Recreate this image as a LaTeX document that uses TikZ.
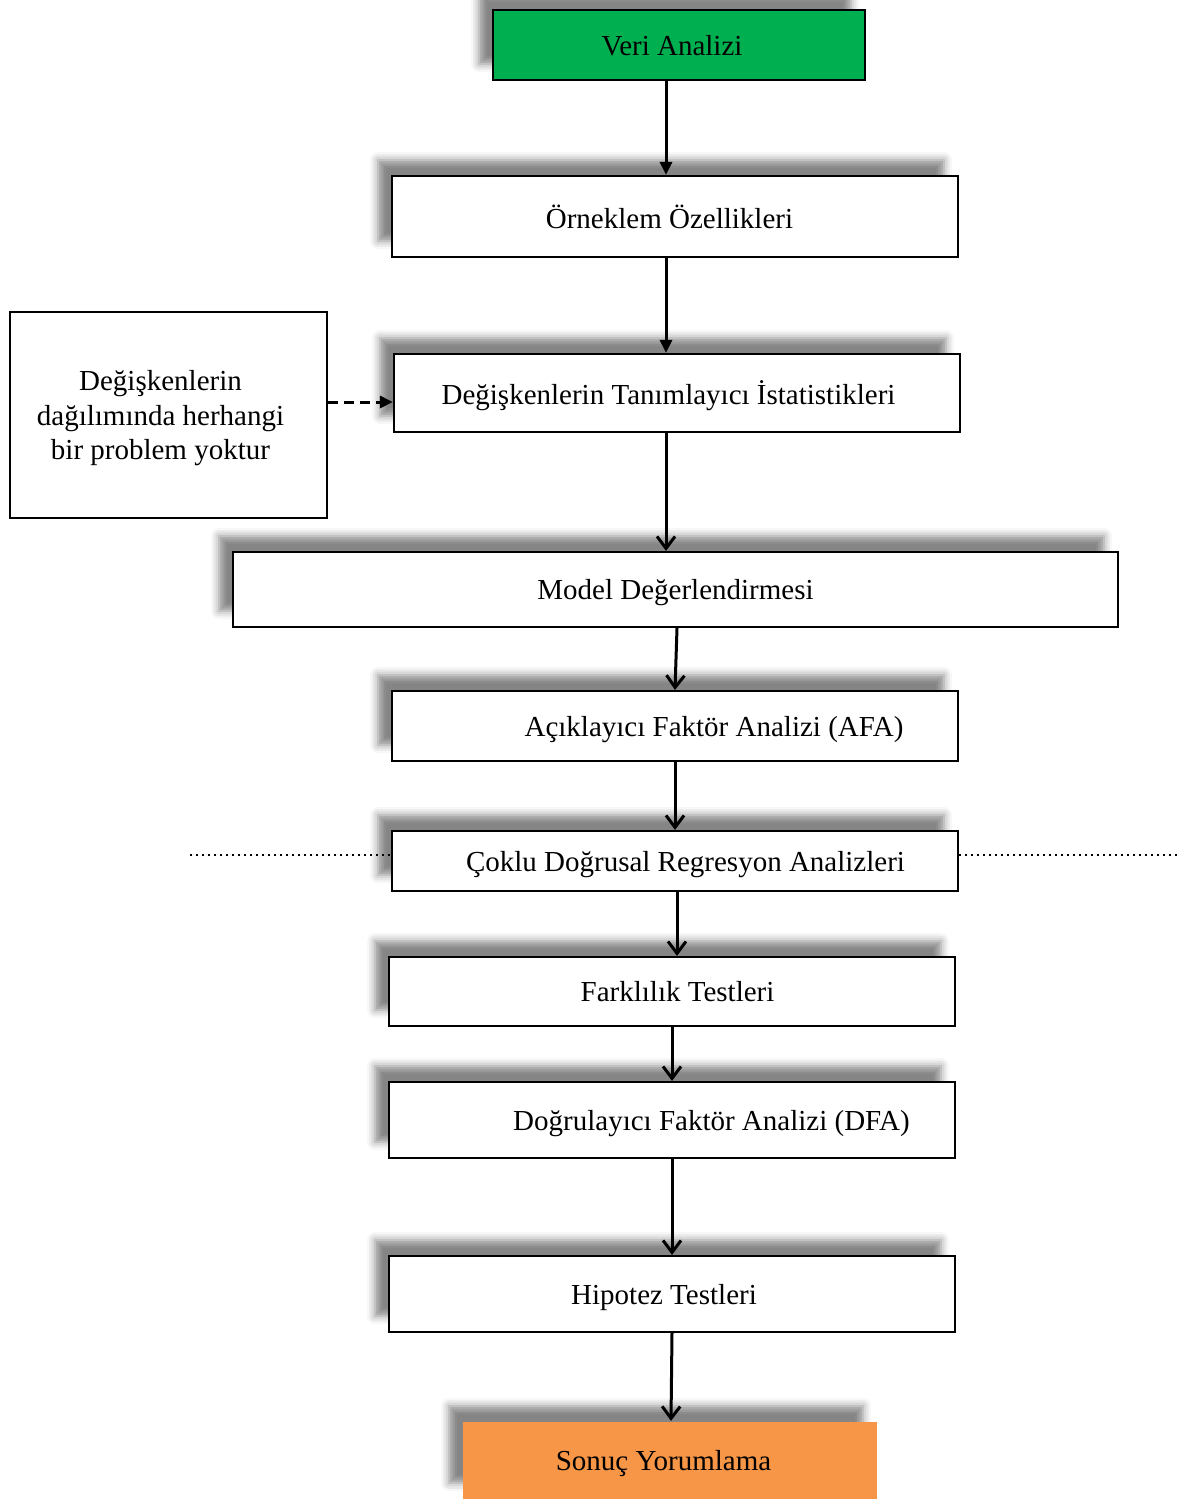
\documentclass[tikz,border=0pt]{standalone}
\usepackage{fontspec}
\setmainfont{Liberation Serif}
\usetikzlibrary{arrows.meta,shadows.blur}

\tikzset{
  stagebox/.style={draw, line width=1.1pt, fill=white, inner sep=0pt, text depth=0pt,
    font=\fontsize{14.5}{17.5}\selectfont,
    blur shadow={shadow xshift=-7pt, shadow yshift=8pt, shadow blur radius=4pt, shadow opacity=48}},
  notebox/.style={draw, line width=1.1pt, fill=white, inner sep=0pt, align=center, text depth=0pt,
    font=\fontsize{14.5}{17.3}\selectfont},
  flow/.style={line width=1.5pt, -{Straight Barb[length=6pt,width=9pt]}},
  flowfill/.style={line width=1.5pt, -{Triangle[length=6.5pt,width=6pt]}},
}

\begin{document}
\begin{tikzpicture}[x=0.5pt,y=-0.5pt]
    \useasboundingbox (0,0) rectangle (1184,1499);

    % start
    \node[stagebox, fill={rgb,255:red,0;green,176;blue,80}, minimum width=186pt, minimum height=35pt] (veri) at (679,45) {\hspace*{-7pt}Veri Analizi};

    % sample
    \node[stagebox, minimum width=283pt, minimum height=40.5pt] (ornek) at (675,216.5) {\hspace*{-5.5pt}Örneklem Özellikleri};

    % descriptives
    \node[stagebox, minimum width=283pt, minimum height=39pt] (degis) at (677,393) {\hspace*{-8.5pt}Değişkenlerin Tanımlayıcı İstatistikleri};
    \node[notebox, minimum width=158.5pt, minimum height=103pt] (dagilim) at (168.5,415) {\hspace*{-8pt}Değişkenlerin\\\hspace*{-8pt}dağılımında herhangi\\\hspace*{-8pt}bir problem yoktur};
    \draw[flowfill, dashed, dash pattern=on 5pt off 3pt] (dagilim.east |- 0,402) -- (degis.west |- 0,402);

    %%%%%%%%%%%%%%%%%%%%%%%%%%%%%%%%%%%%%%%%%%%%%%%%%%%%%%%%%

    % model
    \node[stagebox, minimum width=442.5pt, minimum height=37.5pt] (model) at (675.5,589.5) {Model Değerlendirmesi};

    % efa
    \node[stagebox, minimum width=283pt, minimum height=35pt] (afa) at (675,726) {\hspace*{39pt}Açıklayıcı Faktör Analizi (AFA)};

    % regression
    \node[stagebox, minimum width=283pt, minimum height=30pt] (coklu) at (675,861) {\hspace*{10.5pt}Çoklu Doğrusal Regresyon Analizleri};
    \coordinate (solnokta) at (190,855);
    \coordinate (sagnokta) at (1180,855);
    \draw[line width=1.2pt, dash pattern=on 1pt off 2pt] (solnokta) -- (coklu.west |- solnokta);
    \draw[line width=1.2pt, dash pattern=on 1pt off 2pt] (coklu.east |- sagnokta) -- (sagnokta);

    % differences
    \node[stagebox, minimum width=283pt, minimum height=34.5pt] (fark) at (672,991.5) {\hspace*{5.5pt}Farklılık Testleri};

    % cfa
    \node[stagebox, minimum width=283pt, minimum height=38pt] (dfa) at (672,1120) {\hspace*{39.5pt}Doğrulayıcı Faktör Analizi (DFA)};

    % hypotheses
    \node[stagebox, minimum width=283pt, minimum height=38pt] (hipotez) at (672,1294) {\hspace*{-8pt}Hipotez Testleri};

    % end
    \node[stagebox, draw=none, fill={rgb,255:red,247;green,150;blue,70}, minimum width=207pt, minimum height=38.5pt] (sonuc) at (670,1460.5) {\hspace*{-6.5pt}Sonuç Yorumlama};

    %%%%%%%%%%%%%%%%%%%%%%%%%%%%%%%%%%%%%%%%%%%%%%%%%%%%%%%%%

    \draw[flowfill] (veri.south -| 666,0) -- (ornek.north -| 666,0);
    \draw[flowfill] (ornek.south -| 666,0) -- (degis.north -| 666,0);
    \draw[flow] (degis.south -| 666,0) -- (model.north -| 666,0);
    \draw[flow] (model.south -| 677,0) -- (afa.north -| 675,0);
    \draw[flow] (afa.south -| 675,0) -- (coklu.north -| 675,0);
    \draw[flow] (coklu.south -| 677,0) -- (fark.north -| 677,0);
    \draw[flow] (fark.south -| 672,0) -- (dfa.north -| 672,0);
    \draw[flow] (dfa.south -| 672,0) -- (hipotez.north -| 672,0);
    \draw[flow] (hipotez.south -| 672,0) -- (sonuc.north -| 671,0);

\end{tikzpicture}
\end{document}
